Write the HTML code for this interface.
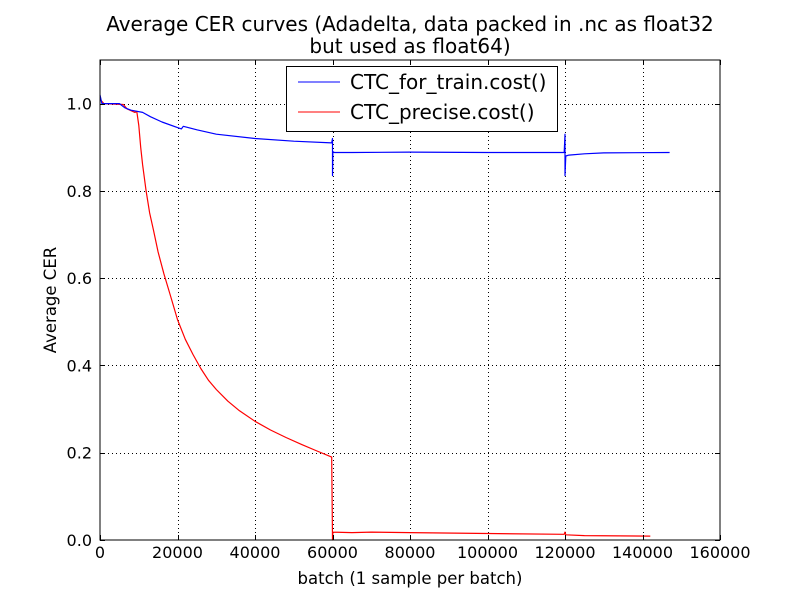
<!DOCTYPE html>
<html><head><meta charset="utf-8"><style>
body{margin:0;background:#fff;}
svg{font-family:"DejaVu Sans","Liberation Sans",sans-serif;}
</style></head><body>
<svg id="chart" width="800" height="600" xmlns="http://www.w3.org/2000/svg">
<rect width="800" height="600" fill="#fff"/>
<g id="grid"></g>
<g id="series"></g>
<rect x="100" y="60" width="620" height="480" fill="none" stroke="#000" stroke-width="1"/>
<g id="ticks"></g>
<text x="410" y="31" text-anchor="middle" font-size="20">Average CER curves (Adadelta, data packed in .nc as float32</text>
<text x="410" y="53" text-anchor="middle" font-size="20">but used as float64)</text>
<text x="410" y="584" text-anchor="middle" font-size="16.5">batch (1 sample per batch)</text>
<text transform="translate(56,300) rotate(-90)" text-anchor="middle" font-size="16.5">Average CER</text>
<g>
<rect x="286.5" y="66.5" width="271" height="65" fill="#fff" stroke="#000"/>
<line x1="298" y1="82" x2="340" y2="82" stroke="#00f"/>
<text x="350" y="89" font-size="20">CTC_for_train.cost()</text>
<line x1="298" y1="112" x2="340" y2="112" stroke="#f00"/>
<text x="350" y="119" font-size="20">CTC_precise.cost()</text>
</g>
</svg>
<script>
const xTicks=[0,20000,40000,60000,80000,100000,120000,140000,160000];
const yTicks=[0.0,0.2,0.4,0.6,0.8,1.0];
const trainX=[0,500,5000,6500,8000,11000,13000,16000,20000,21000,21500,25000,30000,40000,50000,59800,60000,60000,60100,60500,65000,80000,100000,119800,120000,120000,120200,121000,125000,130000,147000];
const trainY=[1.02,1.0,1.0,0.99,0.985,0.98,0.97,0.958,0.945,0.942,0.948,0.94,0.93,0.92,0.914,0.91,0.92,0.835,0.89,0.888,0.888,0.889,0.888,0.888,0.93,0.835,0.88,0.882,0.885,0.887,0.888];
const preciseX=[0,1000,6000,7000,9000,9500,10000,10500,11000,11900,12800,13800,15000,16500,18000,20000,22000,24000,26000,28000,30000,33000,36000,40000,44000,48000,52000,56000,59800,60000,60100,65000,70000,80000,100000,119800,120000,120200,125000,142000];
const preciseY=[1.01,1.0,0.998,0.988,0.98,0.982,0.95,0.9,0.86,0.8,0.75,0.71,0.66,0.61,0.565,0.505,0.46,0.425,0.393,0.366,0.345,0.318,0.296,0.272,0.252,0.235,0.219,0.204,0.19,0.0,0.018,0.017,0.018,0.017,0.015,0.013,0.018,0.012,0.01,0.009];
const NS='http://www.w3.org/2000/svg';
const X0=100,X1=720,Y0=540,Y1=60;
const sx=v=>X0+(v-0)/(160000-0)*(X1-X0);
const sy=v=>Y0-(v-0)/(1.1-0)*(Y0-Y1);
const grid=document.getElementById('grid'),ticks=document.getElementById('ticks'),ser=document.getElementById('series');
function mk(t,a,p){const e=document.createElementNS(NS,t);for(const k in a)e.setAttribute(k,a[k]);p.appendChild(e);return e;}
xTicks.forEach(v=>{const x=Math.round(sx(v))+0.5;
 if(v>0&&v<160000){const g=mk('line',{x1:x,x2:x,y1:Y1,y2:Y0,stroke:'#000','stroke-dasharray':'1,3','stroke-width':1},grid);
 
 }
 mk('line',{x1:x,x2:x,y1:Y0,y2:Y0-5,stroke:'#000'},ticks);mk('line',{x1:x,x2:x,y1:Y1,y2:Y1+5,stroke:'#000'},ticks);
 const t=mk('text',{x:sx(v),y:558,'text-anchor':'middle','font-size':16},ticks);t.textContent=v;
 
 });
yTicks.forEach(v=>{const y=Math.round(sy(v))+0.5;
 if(v>0){const g=mk('line',{x1:X0,x2:X1,y1:y,y2:y,stroke:'#000','stroke-dasharray':'1,3','stroke-width':1},grid);
 
 }
 mk('line',{x1:X0,x2:X0+5,y1:y,y2:y,stroke:'#000'},ticks);mk('line',{x1:X1,x2:X1-5,y1:y,y2:y,stroke:'#000'},ticks);
 const t=mk('text',{x:92,y:sy(v)+6,'text-anchor':'end','font-size':16},ticks);t.textContent=v.toFixed(1);
 
 });
function line(xs,ys,c,name){const d=xs.map((x,i)=>(i?'L':'M')+sx(x).toFixed(1)+','+sy(ys[i]).toFixed(1)).join('');
 const p=mk('path',{d:d,fill:'none',stroke:c,'stroke-width':1.2,'stroke-linejoin':'round'},ser);
 
 }
line(preciseX,preciseY,'#f00','precise-cost-line');
line(trainX,trainY,'#00f','train-cost-line');
</script>
</body></html>
